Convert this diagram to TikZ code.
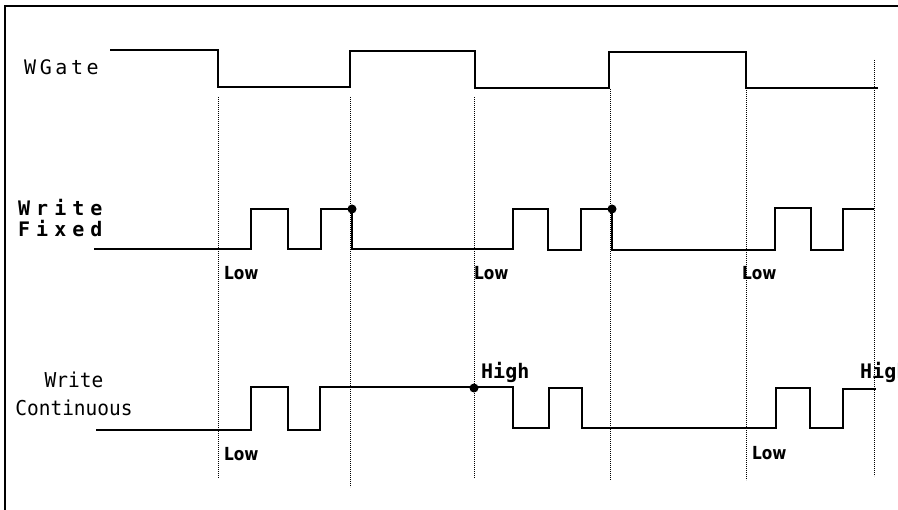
\documentclass[tikz,border=0pt]{standalone}
\usepackage{fontspec}
\usepackage{tikz}

\newfontfamily\gatefont[LetterSpace=18]{DejaVu Sans Mono}
\newfontfamily\fixfont[LetterSpace=30]{DejaVu Sans Mono Bold}
\newfontfamily\contfont[FakeStretch=0.95]{DejaVu Sans Mono}
\newfontfamily\highfont{DejaVu Sans Mono Bold}
\newfontfamily\lowfont[FakeStretch=0.85]{DejaVu Sans Bold}

\begin{document}
\begin{tikzpicture}[x=1pt,y=-1pt,
    wave/.style={line width=1.4pt, line join=miter},
    guide/.style={dash pattern=on 0.8pt off 1.2pt, line width=1pt},
    lbl/.style={inner sep=0pt, anchor=base west},
    lowlbl/.style={lbl, font=\lowfont\fontsize{18}{22}\selectfont},
    highlbl/.style={lbl, font=\highfont\fontsize{20}{24}\selectfont}]
    \useasboundingbox (0,0) rectangle (898,510);
    \clip (0,0) rectangle (898,510);
    % frame
    \draw[line width=1.6pt] (5,512) -- (5,6) -- (900,6);
    % guide lines
    \draw[guide] (218,97) -- (218,478);
    \draw[guide] (350,97) -- (350,487);
    \draw[guide] (474,97) -- (474,478);
    \draw[guide] (610,89) -- (610,480);
    \draw[guide] (746,88) -- (746,480);
    \draw[guide] (874,60) -- (874,476);
    % WGate
    \draw[wave] (110,50) -- (218,50) -- (218,87) -- (350,87) -- (350,51)
        -- (475,51) -- (475,88) -- (609,88) -- (609,52) -- (746,52)
        -- (746,88) -- (878,88);
    % Write Fixed
    \draw[wave] (94,249) -- (251,249) -- (251,209) -- (288,209) -- (288,249)
        -- (321,249) -- (321,209) -- (352,209) -- (352,249) -- (513,249)
        -- (513,209) -- (548,209) -- (548,250) -- (581,250) -- (581,209)
        -- (612,209) -- (612,250) -- (775,250) -- (775,208) -- (811,208)
        -- (811,250) -- (843,250) -- (843,209) -- (874,209);
    % Write Continuous
    \draw[wave] (96,430) -- (251,430) -- (251,387) -- (288,387) -- (288,430)
        -- (320,430) -- (320,387) -- (513,387) -- (513,428) -- (549,428)
        -- (549,388) -- (582,388) -- (582,428) -- (776,428) -- (776,388)
        -- (810,388) -- (810,428) -- (843,428) -- (843,389) -- (876,389);
    % marks
    \coordinate (fixA) at (352,209);
    \coordinate (fixB) at (612,209);
    \coordinate (contA) at (474,388);
    \fill (fixA) circle (4.5);
    \fill (fixB) circle (4.5);
    \fill (contA) circle (4.5);
    % signal names
    \node[lbl, font=\gatefont\fontsize{20}{24}\selectfont] (wgate) at (24,75) {WGate};
    \node[lbl, font=\fixfont\fontsize{20}{24}\selectfont] (wfixA) at (18,216) {Write};
    \node[lbl, font=\fixfont\fontsize{20}{24}\selectfont] (wfixB) at (18,237) {Fixed};
    \node[inner sep=0pt, anchor=base, font=\contfont\fontsize{20.5}{24}\selectfont] (wcontA) at (74,388) {Write};
    \node[inner sep=0pt, anchor=base, font=\contfont\fontsize{20.5}{24}\selectfont] (wcontB) at (74,416) {Continuous};
    % levels
    \node[lowlbl] (lowA) at (224,280) {Low};
    \node[lowlbl] (lowB) at (474,280) {Low};
    \node[lowlbl] (lowC) at (742,280) {Low};
    \node[lowlbl] (lowD) at (224,461) {Low};
    \node[lowlbl] (lowE) at (752,460) {Low};
    \node[highlbl] (highA) at (481,379) {High};
    \node[highlbl] (highB) at (860,379) {High};
\end{tikzpicture}
\end{document}
